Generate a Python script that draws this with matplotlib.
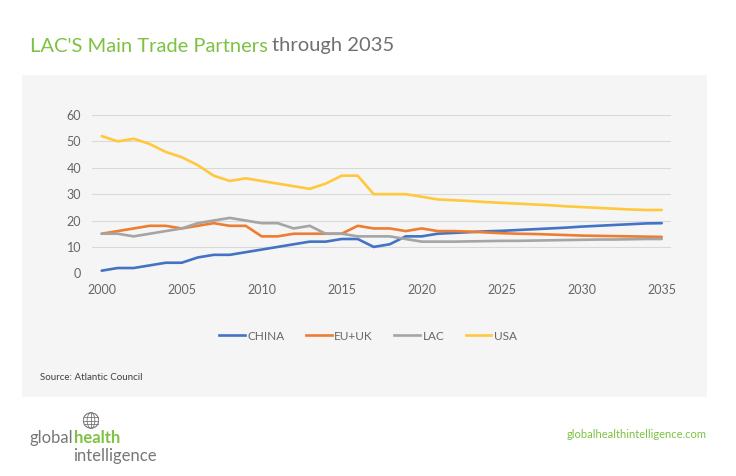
import matplotlib
matplotlib.use("Agg")
import matplotlib.pyplot as plt
from matplotlib.patches import Rectangle, Circle, Ellipse
from matplotlib.lines import Line2D

years = list(range(2000, 2036))
china = [1, 2, 2, 3, 4, 4, 6, 7, 7, 8, 9, 10, 11, 12, 12, 13, 13, 10, 11, 14,
         14, 15, 15.3, 15.6, 15.9, 16.1, 16.4, 16.7, 17.0, 17.3, 17.7, 18.0, 18.3, 18.6, 18.9, 19]
euuk = [15, 16, 17, 18, 18, 17, 18, 19, 18, 18, 14, 14, 15, 15, 15, 15, 18, 17, 17, 16,
        17, 16, 16, 15.8, 15.5, 15.2, 15.0, 14.9, 14.7, 14.5, 14.3, 14.2, 14.1, 14.0, 13.9, 13.8]
lac = [15, 15, 14, 15, 16, 17, 19, 20, 21, 20, 19, 19, 17, 18, 15, 15, 14, 14, 14, 13,
       12, 12, 12, 12.1, 12.2, 12.3, 12.3, 12.4, 12.5, 12.6, 12.7, 12.8, 12.8, 12.9, 13.0, 13.0]
usa = [52, 50, 51, 49, 46, 44, 41, 37, 35, 36, 35, 34, 33, 32, 34, 37, 37, 30, 30, 30,
       29, 28, 27.7, 27.4, 27.0, 26.7, 26.4, 26.1, 25.8, 25.4, 25.1, 24.8, 24.5, 24.2, 24.0, 24.0]
series_names = ["CHINA", "EU+UK", "LAC", "USA"]
series_values = [china, euuk, lac, usa]
colors = ["#4472C4", "#ED7D31", "#A5A5A5", "#FFC83D"]
yticks = [0, 10, 20, 30, 40, 50, 60]
xticks = [2000, 2005, 2010, 2015, 2020, 2025, 2030, 2035]

FONT = "Lato"
W, H = 736, 476
fig = plt.figure(figsize=(W / 100, H / 100), dpi=100)
fig.patch.set_facecolor("white")

def fx(px):
    return px / W

def fy(py):
    return (H - py) / H

# gray panel
fig.patches.append(Rectangle((fx(22), fy(397)), fx(707) - fx(22), fy(75) - fy(397),
                             transform=fig.transFigure, facecolor="#f5f5f5",
                             edgecolor="none", zorder=-5))

# title
t1 = fig.text(fx(30), fy(46), "LAC'S Main Trade Partners", color="#7DC242",
              fontsize=14.5, family=FONT, va="center", ha="left")
fig.canvas.draw()
bb = t1.get_window_extent()
fig.text(bb.x1 / W + 0.006, fy(46), "through 2035", color="#707070",
         fontsize=14.5, family=FONT, va="center", ha="left")

# axes
left, right = 92.1, 671.3
top, bottom = 115.0, 273.3
ax = fig.add_axes([fx(left), fy(bottom), fx(right) - fx(left), fy(top) - fy(bottom)])
ax.set_facecolor("none")
for name, vals, c in zip(series_names, series_values, colors):
    ax.plot(years, vals, color=c, lw=1.9, label=name, solid_capstyle="round", zorder=3)
ax.set_xlim(1999.4, 2035.6)
ax.set_ylim(0, 60)
ax.set_yticks(yticks)
ax.set_xticks(xticks)
ax.grid(axis="y", color="#d9d9d9", lw=0.8)
ax.set_axisbelow(True)
ax.tick_params(length=0, labelsize=9, labelcolor="#666666", pad=8)
for lab in ax.get_xticklabels() + ax.get_yticklabels():
    lab.set_family(FONT)
for s in ax.spines.values():
    s.set_visible(False)

# legend
handles = [Line2D([0], [0], color=c, lw=1.9) for c in colors]
leg = fig.legend(handles, series_names, loc="center", bbox_to_anchor=(fx(368), fy(336)),
                 ncol=4, frameon=False, handlelength=2.2, handletextpad=0.2,
                 columnspacing=1.8, prop={"family": FONT, "size": 8.5})
for t in leg.get_texts():
    t.set_color("#666666")

# source
fig.text(fx(40), fy(377), "Source: Atlantic Council", fontsize=7, family=FONT,
         color="#404040", va="center", ha="left")

# footer logo
gt = fig.text(fx(30), fy(438), "global", fontsize=12, family=FONT,
              color="#777777", va="center", ha="left")
fig.canvas.draw()
g = gt.get_window_extent()
fig.text(g.x1 / W, fy(438), "health", fontsize=12, family=FONT, fontweight="bold",
         color="#7DC242", va="center", ha="left")
fig.text(fx(73), fy(456), "intelligence", fontsize=12, family=FONT,
         color="#777777", va="center", ha="left")
# globe icon
cx, cy, r = 91, 420.5, 7.5
axg = fig.add_axes([fx(cx - r - 1), fy(cy + r + 1), fx(2 * r + 2), fy(0) - fy(2 * r + 2)])
axg.set_xlim(-1.1, 1.1)
axg.set_ylim(-1.1, 1.1)
axg.set_aspect("equal")
axg.axis("off")
axg.add_patch(Circle((0, 0), 1, fill=False, ec="#777777", lw=0.8))
axg.add_patch(Ellipse((0, 0), 1.0, 2.0, fill=False, ec="#777777", lw=0.6))
axg.plot([0, 0], [-1, 1], color="#777777", lw=0.6)
for yy in (-0.5, 0, 0.5):
    xx = (1 - yy ** 2) ** 0.5
    axg.plot([-xx, xx], [yy, yy], color="#777777", lw=0.6)

fig.text(fx(707), fy(435), "globalhealthintelligence.com", fontsize=8, family=FONT,
         color="#7DC242", va="center", ha="right")

fig.savefig("out.png", dpi=100, facecolor="white")
